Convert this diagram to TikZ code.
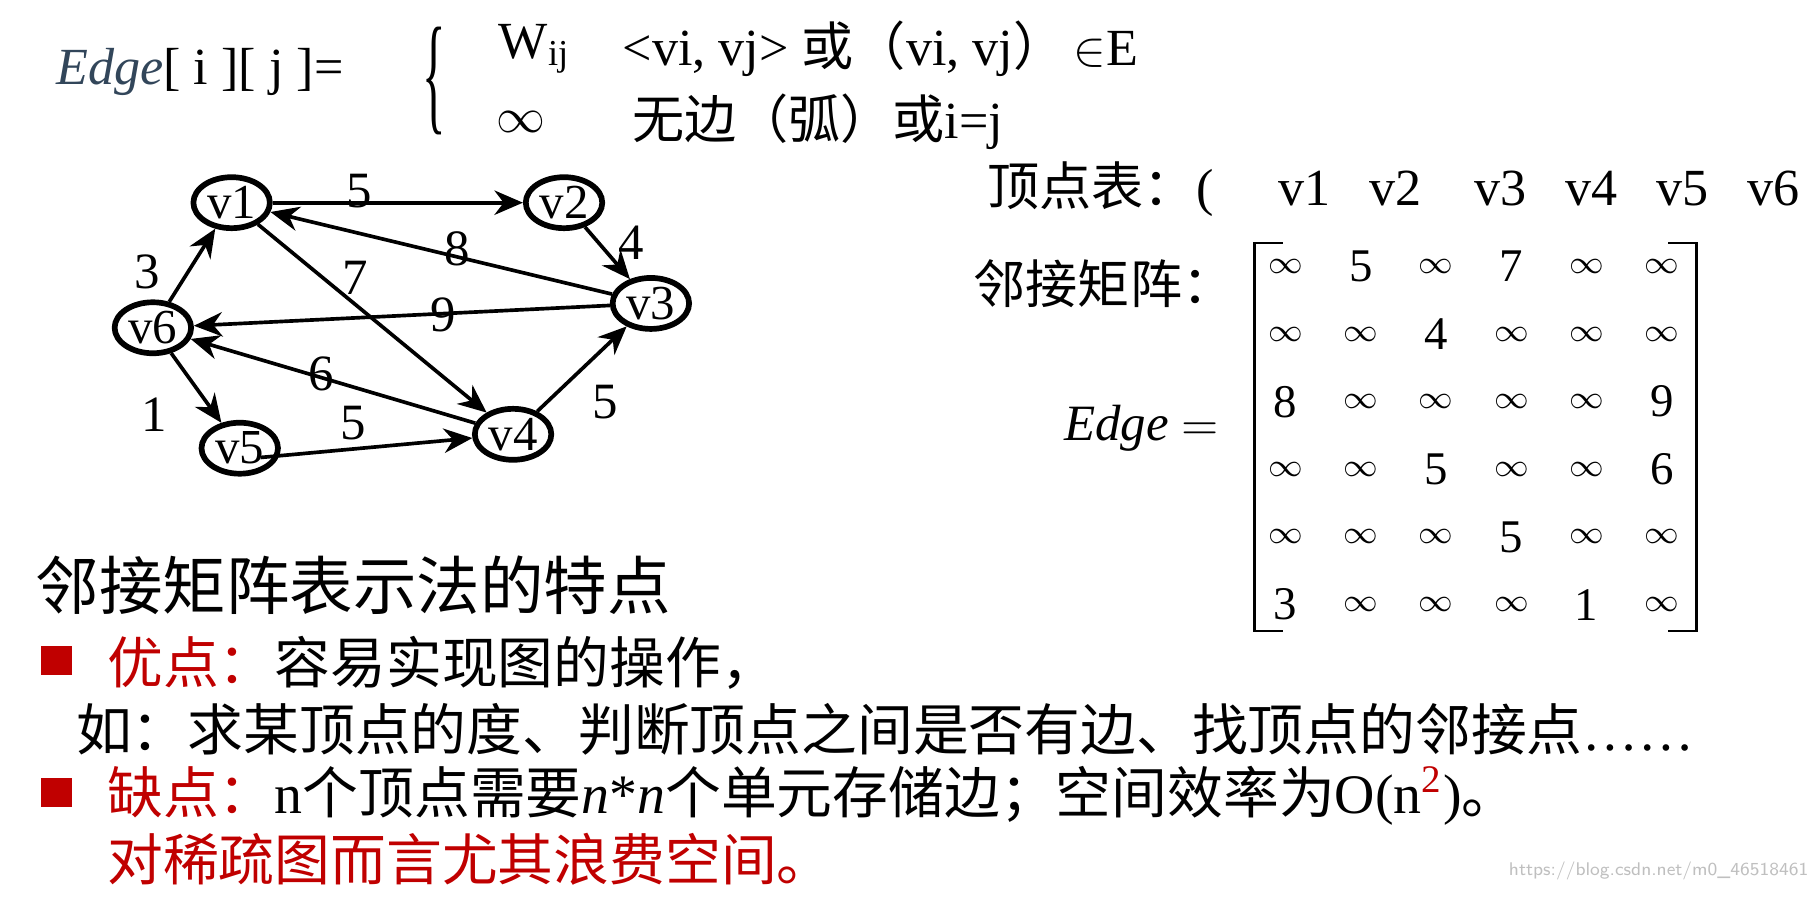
\documentclass[tikz,border=0pt]{standalone}
\usepackage{fontspec}
\setmainfont{Liberation Serif}
\newfontfamily\cjk{Noto Sans CJK SC}
\usetikzlibrary{arrows.meta,shapes.geometric}
\definecolor{dred}{RGB}{192,0,0}
\definecolor{edgeblue}{RGB}{50,70,90}
\newcommand{\sinf}{{\fontsize{8.5}{9}\selectfont$\infty$}}
\begin{document}
\begin{tikzpicture}[x=0.01cm,y=-0.01cm,
  vtx/.style={draw,ellipse,line width=1.4pt,inner sep=0pt,minimum width=0.66cm,minimum height=0.44cm,font=\fontsize{12}{12}\selectfont},
  arc/.style={line width=0.9pt,-{Stealth[length=7pt,width=6pt]}},
  lab/.style={font=\fontsize{12.5}{12.5}\selectfont,inner sep=0pt},
  txt/.style={anchor=west,inner sep=0pt,font=\fontsize{12.8}{14}\selectfont},
  big/.style={anchor=west,inner sep=0pt,font=\fontsize{13.7}{16}\selectfont},
  m/.style={font=\fontsize{11.5}{12}\selectfont,inner sep=0pt}]
\useasboundingbox (0,0) rectangle (1568,778);
% top formula
\node[txt] (e) at (48,62) {\textcolor{edgeblue}{\textit{Edge}}[ i ][ j ]=};
\node[inner sep=0pt,font=\fontsize{20}{20}\selectfont,yscale=1.6,xscale=0.6] (br) at (375,70) {\{};
\node[txt] (w) at (430,42) {W\textsubscript{ij}};
\node[txt] (inf) at (428,105) {$\infty$};
\node[txt] (c1) at (537,42) {<vi, vj> {\cjk 或（}vi, vj{\cjk ）}\,$\in$E};
\node[txt] (c2) at (545,105) {{\cjk 无边（弧）或}i=j};
% vertex table
\node[txt,font=\fontsize{12.8}{14}\selectfont] (vt) at (852,163) {{\cjk 顶点表：}(\quad\ v1\enspace\ v2\enspace\ \ v3\enspace\ v4\enspace\ v5\enspace\ v6\enspace\ )};
\node[txt,font=\fontsize{12.8}{14}\selectfont] (adj) at (840,245) {\cjk 邻接矩阵：};
\node[txt,font=\fontsize{12.5}{14}\selectfont] (eq) at (918,370) {\textit{Edge} $=$};
% matrix brackets
\coordinate (lt) at (1083,210); \coordinate (lb) at (1083,545);
\coordinate (rt) at (1465,210); \coordinate (rb) at (1465,545);
\draw[line width=0.6pt] ([xshift=7]lt) -- (lt) -- (lb) -- ([xshift=7]lb);
\draw[line width=0.6pt] ([xshift=-7]rt) -- (rt) -- (rb) -- ([xshift=-7]rb);
\foreach \row [count=\r] in {{\sinf,5,\sinf,7,\sinf,\sinf},{\sinf,\sinf,4,\sinf,\sinf,\sinf},{8,\sinf,\sinf,\sinf,\sinf,9},{\sinf,\sinf,5,\sinf,\sinf,6},{\sinf,\sinf,\sinf,5,\sinf,\sinf},{3,\sinf,\sinf,\sinf,1,\sinf}}{
  \foreach \v [count=\c] in \row {
    \node[m] (m\r\c) at ({1110+65*(\c-1)},{230+58.4*(\r-1)}) {\v};
  }}
% graph
\node[vtx] (v1) at (200,175) {v1};
\node[vtx] (v2) at (487,175) {v2};
\node[vtx] (v3) at (562,262) {v3};
\node[vtx] (v6) at (132,283) {v6};
\node[vtx] (v5) at (207,387) {v5};
\node[vtx] (v4) at (443,375) {v4};
\coordinate (v5s) at (225,395);
\draw[arc] (v1) -- (v2);
\draw[arc] (v2) -- (v3);
\draw[arc] (v3) -- (v1);
\draw[arc] (v1) -- (v4);
\draw[arc] (v6) -- (v1);
\draw[arc] (v3) -- (v6);
\draw[arc] (v4) -- (v6);
\draw[arc] (v6) -- (v5);
\draw[arc] (v5s) -- (v4);
\draw[arc] (v4) -- (v3);
\node[lab] (l12) at (310,165) {5};
\node[lab] (l23) at (545,210) {4};
\node[lab] (l31) at (395,215) {8};
\node[lab] (l14) at (307,240) {7};
\node[lab] (l61) at (127,235) {3};
\node[lab] (l36) at (383,272) {9};
\node[lab] (l46) at (277,323) {6};
\node[lab] (l65) at (133,358) {1};
\node[lab] (l54) at (305,365) {5};
\node[lab] (l43) at (523,347) {5};
% bottom text
\node[anchor=west,inner sep=0pt,font=\fontsize{15.6}{16}\selectfont\cjk] (t) at (30,505) {邻接矩阵表示法的特点};
\fill[dred] (35,558) rectangle (62,583);
\node[big] (p1) at (92,572) {{\cjk\textcolor{dred}{优点：}容易实现图的操作，}};
\node[big] (p2) at (65,630) {{\cjk 如：求某顶点的度、判断顶点之间是否有边、找顶点的邻接点}……};
\fill[dred] (35,672) rectangle (62,697);
\node[big] (p3) at (92,687) {{\cjk\textcolor{dred}{缺点：}}n{\cjk 个顶点需要}\textit{n}*\textit{n}{\cjk 个单元存储边；空间效率为}O(n\textsuperscript{\textcolor{dred}{2}}){\cjk 。}};
\node[big,text=dred] (p4) at (92,742) {\cjk 对稀疏图而言尤其浪费空间。};
\node[anchor=east,inner sep=0pt,font=\fontsize{4.5}{5}\selectfont\sffamily,text=black!25] (wm) at (1562,752) {https://blog.csdn.net/m0\_46518461};
\end{tikzpicture}
\end{document}
